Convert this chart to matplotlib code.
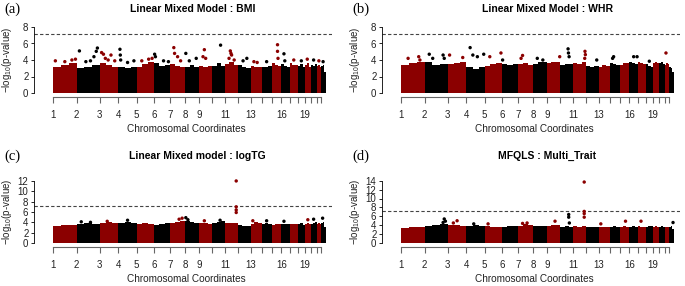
import numpy as np
import matplotlib
matplotlib.use("Agg")
import matplotlib.pyplot as plt

plt.rcParams['font.family'] = ['Liberation Sans', 'DejaVu Sans']
plt.rcParams['mathtext.fontset'] = 'custom'
plt.rcParams['mathtext.rm'] = 'Liberation Sans'

# chromosome lengths (Mb)
chr_len = [249, 243, 198, 191, 181, 171, 159, 146, 141, 135, 135,
           133, 115, 107, 102, 90, 81, 78, 59, 63, 48, 51]
chr_labels = ["1", "2", "3", "4", "5", "6", "7", "8", "9", "", "11",
              "", "13", "", "", "16", "", "", "19", "", "", ""]

# top of the dense band of SNPs, three segments per chromosome
band_a = [[3.2, 3.4, 3.6], [3.0, 3.2, 3.4], [3.6, 3.4, 3.2], [3.2, 3.0, 3.1],
          [3.2, 3.5, 3.8], [3.6, 3.3, 3.4], [3.5, 3.3, 3.2], [3.2, 3.4, 3.2],
          [3.3, 3.2, 3.3], [3.3, 3.6, 3.3], [3.5, 3.8, 3.4], [3.4, 3.2, 3.0],
          [3.3, 3.2, 3.1], [3.2, 3.1, 3.3], [3.6, 3.4, 3.3], [3.5, 3.3, 3.2],
          [3.6, 3.4, 3.4], [3.3, 3.5, 3.2], [3.4, 3.6, 3.2], [3.4, 3.3, 3.5],
          [3.3, 3.4, 3.2], [3.3, 3.4, 2.6]]
band_b = [[3.4, 3.6, 3.7], [3.8, 3.4, 3.5], [3.5, 3.6, 3.7], [3.2, 2.9, 3.2],
          [3.3, 3.5, 3.6], [3.5, 3.4, 3.5], [3.5, 3.6, 3.4], [3.5, 3.7, 3.8],
          [3.6, 3.7, 3.8], [3.4, 3.5, 3.5], [3.6, 3.5, 3.7], [3.3, 3.1, 3.3],
          [3.2, 3.4, 3.3], [3.6, 3.5, 3.4], [3.4, 3.6, 3.6], [3.7, 3.6, 3.5],
          [3.7, 3.6, 3.5], [3.5, 3.3, 3.2], [3.6, 3.7, 3.6], [3.6, 3.7, 3.5],
          [3.4, 3.6, 3.5], [3.2, 3.0, 2.5]]
band_c = [[3.3, 3.4, 3.5], [3.6, 3.8, 3.6], [3.9, 4.0, 3.9], [3.8, 4.0, 3.9],
          [3.6, 3.8, 3.7], [3.4, 3.6, 3.8], [3.9, 4.1, 4.3], [4.2, 4.0, 3.8],
          [3.9, 3.8, 3.7], [3.8, 4.0, 4.2], [3.8, 3.9, 3.8], [3.4, 3.2, 3.3],
          [3.6, 4.0, 3.8], [3.6, 3.8, 3.6], [3.5, 3.7, 3.6], [3.6, 3.7, 3.6],
          [3.6, 3.7, 3.6], [3.6, 3.8, 3.5], [3.7, 3.9, 3.7], [3.7, 3.9, 4.0],
          [3.6, 3.8, 3.6], [3.8, 4.0, 3.0]]
band_d = [[3.4, 3.5, 3.6], [3.8, 4.0, 4.2], [4.0, 4.1, 3.9], [3.9, 4.0, 3.8],
          [3.8, 3.7, 3.6], [3.7, 3.9, 3.8], [3.9, 4.2, 4.1], [3.9, 3.8, 3.9],
          [3.8, 4.1, 4.0], [3.6, 3.9, 3.7], [3.8, 3.7, 3.9], [3.5, 3.7, 3.6],
          [3.7, 3.6, 3.7], [3.6, 3.8, 3.7], [3.7, 3.8, 3.6], [3.7, 3.8, 3.7],
          [3.8, 3.7, 3.6], [3.7, 3.9, 3.8], [3.6, 3.8, 3.7], [3.7, 3.8, 3.6],
          [3.6, 3.7, 3.5], [3.6, 3.8, 3.1]]

# SNPs standing above the band: (chromosome, position fraction, -log10 p)
hits_a = [(1, 0.1, 3.9), (1, 0.5, 3.8), (1, 0.8, 4.0), (1, 0.95, 4.1),
          (2, 0.12, 5.1), (2, 0.4, 3.8), (2, 0.6, 3.9), (2, 0.75, 4.4), (2, 0.85, 5.05), (2, 0.9, 5.45),
          (3, 0.1, 4.9), (3, 0.2, 4.7), (3, 0.3, 4.2), (3, 0.45, 4.0), (3, 0.6, 4.6), (3, 0.8, 3.9),
          (4, 0.08, 5.3), (4, 0.1, 4.6), (4, 0.12, 4.0), (4, 0.5, 3.7), (4, 0.85, 3.9),
          (5, 0.3, 3.9), (5, 0.7, 4.1), (5, 0.9, 4.2),
          (6, 0.05, 4.7), (6, 0.1, 4.4), (6, 0.6, 3.9), (6, 0.9, 3.8),
          (7, 0.25, 5.5), (7, 0.3, 4.8), (7, 0.5, 4.4), (7, 0.7, 3.9),
          (8, 0.05, 4.8), (8, 0.3, 3.9), (8, 0.8, 4.2),
          (9, 0.3, 4.4), (9, 0.4, 5.25), (9, 0.5, 4.2),
          (10, 0.64, 5.8),
          (11, 0.3, 4.2), (11, 0.4, 5.1), (11, 0.45, 4.8), (11, 0.5, 4.6), (11, 0.7, 4.0),
          (12, 0.4, 3.9), (12, 0.7, 4.2), (13, 0.3, 3.8), (13, 0.6, 3.7), (14, 0.5, 3.8),
          (15, 0.6, 5.85), (15, 0.6, 5.05), (15, 0.65, 4.2),
          (16, 0.3, 4.75), (16, 0.4, 3.9), (17, 0.5, 4.0), (18, 0.5, 3.9),
          (19, 0.4, 4.1), (20, 0.5, 4.0), (21, 0.5, 3.9), (22, 0.4, 3.8)]
hits_b = [(1, 0.3, 4.2), (1, 0.75, 4.4), (1, 0.8, 4.0),
          (2, 0.2, 4.7), (2, 0.35, 4.2), (2, 0.8, 4.6), (2, 0.85, 4.2),
          (3, 0.1, 4.6), (3, 0.8, 4.3),
          (4, 0.2, 5.5), (4, 0.35, 4.6), (4, 0.6, 4.4), (4, 0.95, 4.7),
          (5, 0.3, 4.4), (5, 0.95, 4.85), (6, 0.05, 4.0),
          (7, 0.3, 4.55), (7, 0.2, 4.2),
          (8, 0.3, 4.2), (8, 0.7, 4.0), (9, 0.95, 4.4),
          (10, 0.6, 5.35), (10, 0.63, 4.85), (10, 0.68, 4.4),
          (11, 0.92, 5.05), (11, 0.95, 4.65), (11, 0.9, 4.2),
          (12, 0.85, 4.0), (14, 0.4, 4.4), (14, 0.3, 4.2),
          (16, 0.5, 4.4), (16, 0.9, 4.4), (18, 0.5, 3.85), (21, 0.3, 4.85)]
hits_c = [(2, 0.2, 4.1), (2, 0.6, 4.0), (3, 0.4, 4.2), (4, 0.5, 4.4),
          (7, 0.6, 4.6), (7, 0.8, 4.8), (8, 0.05, 4.9), (8, 0.2, 4.5),
          (9, 0.4, 4.3), (10, 0.6, 4.4),
          (11, 0.86, 12.0), (11, 0.86, 7.0), (11, 0.86, 6.4), (11, 0.86, 5.9),
          (13, 0.2, 4.3), (14, 0.5, 4.3), (16, 0.3, 4.2), (19, 0.5, 4.5),
          (20, 0.5, 4.6), (22, 0.3, 4.8)]
hits_d = [(2, 0.8, 4.6), (2, 0.85, 5.4), (2, 0.9, 4.9), (3, 0.3, 4.5), (3, 0.5, 5.0),
          (4, 0.4, 4.3), (5, 0.2, 4.3), (7, 0.3, 4.4), (7, 0.6, 4.5), (9, 0.6, 4.9),
          (10, 0.65, 6.4), (10, 0.65, 5.8), (10, 0.7, 4.5),
          (11, 0.86, 13.7), (11, 0.86, 7.1), (11, 0.86, 6.6), (11, 0.86, 5.8),
          (13, 0.2, 4.3), (15, 0.6, 4.9), (17, 0.4, 4.9), (22, 0.8, 4.6)]

titles = ["Linear Mixed Model : BMI", "Linear Mixed Model : WHR",
          "Linear Mixed model : logTG", "MFQLS : Multi_Trait"]
letters = ["(a)", "(b)", "(c)", "(d)"]
ymax_ticks = [8, 8, 12, 14]
threshold = 7.2

RED = "#8b0000"
W, H = 685, 286

# pixel layout of each panel: x of genome start/end, axes left/right,
# y pixel of value 0, pixels per unit, axes bottom/top
layout = [
    dict(x0=53, x1=326, axl=34, axr=332, y0=93, upx=8.25, axb=97, axt=22, cx=193, ty=9),
    dict(x0=401, x1=674, axl=382, axr=680, y0=93, upx=8.25, axb=97, axt=22, cx=547, ty=9),
    dict(x0=53, x1=326, axl=34, axr=332, y0=243, upx=5.17, axb=246.5, axt=172, cx=197, ty=156),
    dict(x0=401, x1=674, axl=382, axr=680, y0=243, upx=4.45, axb=246.5, axt=172, cx=547, ty=156),
]

starts = np.concatenate([[0], np.cumsum(chr_len)[:-1]])
G = sum(chr_len)

fig = plt.figure(figsize=(W / 100, H / 100), dpi=100)

for k, (band, hits) in enumerate(zip([band_a, band_b, band_c, band_d],
                                     [hits_a, hits_b, hits_c, hits_d])):
    L = layout[k]
    ax = fig.add_axes([L['axl'] / W, 1 - L['axb'] / H,
                       (L['axr'] - L['axl']) / W, (L['axb'] - L['axt']) / H])
    s = (L['x1'] - L['x0']) / G
    ax.set_xlim(-(L['x0'] - L['axl']) / s, G + (L['axr'] - L['x1']) / s)
    ax.set_ylim(-(L['axb'] - L['y0']) / L['upx'], (L['y0'] - L['axt']) / L['upx'])

    for c in range(22):
        col = RED if c % 2 == 0 else "black"
        seg = chr_len[c] / len(band[c])
        xs = starts[c] + seg * np.arange(len(band[c]))
        ax.bar(xs, band[c], width=seg, align='edge', color=col, linewidth=0)

    hc = np.array([h[0] for h in hits])
    hx = np.array([starts[h[0] - 1] + h[1] * chr_len[h[0] - 1] for h in hits])
    hy = np.array([h[2] for h in hits])
    cols = [RED if ch % 2 == 1 else "black" for ch in hc]
    ax.scatter(hx, hy, s=6, c=cols, linewidths=0, zorder=3)

    ax.axhline(threshold, color="#444444", lw=0.8, ls=(0, (3, 2)))

    for sp in ["top", "right"]:
        ax.spines[sp].set_visible(False)
    ax.spines["left"].set_bounds(0, ymax_ticks[k])
    ax.spines["bottom"].set_bounds(0, starts[-1])
    ax.spines["bottom"].set_color("#666666")
    ax.spines["left"].set_linewidth(0.6)
    ax.spines["bottom"].set_linewidth(0.8)
    ax.set_yticks(np.arange(0, ymax_ticks[k] + 1, 2))
    ax.set_xticks(starts)
    ax.set_xticklabels(chr_labels)
    ax.tick_params(axis='x', length=4.5, width=0.8, color="#666666", pad=5,
                   labelsize=7, labelcolor="#222222")
    ax.tick_params(axis='y', length=2.5, width=0.6, pad=1.5, labelsize=7,
                   labelcolor="#222222")
    ax.patch.set_visible(False)

    fig.text(L['cx'] / W, 1 - L['ty'] / H, titles[k], ha='center', va='center',
             fontsize=7.5, fontweight='bold')
    fig.text((L['axl'] - 30) / W, 1 - L['ty'] / H, letters[k], ha='left',
             va='center', fontsize=10.5, family='Liberation Serif')
    xl_y = L['axb'] + 32.5
    fig.text((L['x0'] + L['x1']) / 2 / W - 0.004, 1 - xl_y / H,
             "Chromosomal Coordinates", ha='center', va='center',
             fontsize=7.2, color="#222222")
    yc = L['y0'] - ymax_ticks[k] * L['upx'] / 2
    fig.text((L['axl'] - 27) / W, 1 - yc / H, "\u2212log$_{10}$(p-value)",
             rotation=90, ha='center', va='center', fontsize=7, color="#222222")

fig.savefig("out.png", dpi=100)
